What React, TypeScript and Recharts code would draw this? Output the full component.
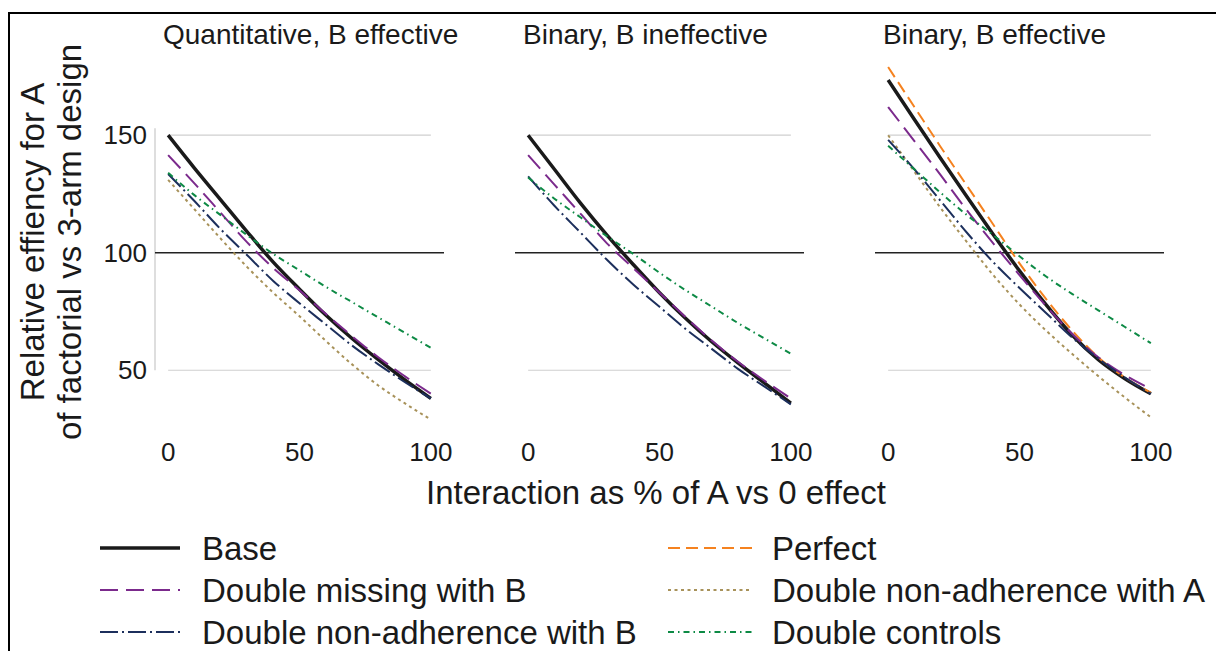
import React from 'react';
import { LineChart, Line, XAxis, YAxis, ReferenceLine } from 'recharts';

// interaction as % of A vs 0 effect
const interaction = [0, 10, 20, 30, 40, 50, 60, 70, 80, 90, 100];

// Quantitative, B effective
const quantBase = [150, 136, 122.5, 109, 96, 84.5, 73.5, 63.5, 54.5, 46, 38];
const quantMissingB = [141.5, 129.5, 117, 104.5, 93.5, 84, 74, 64.5, 55.5, 47.5, 40];
const quantNonAdhB = [133.5, 122, 110, 99, 88, 78.5, 69.5, 60.5, 52.5, 45, 38];
const quantNonAdhA = [131, 118.5, 106, 94, 83, 73, 62.5, 52.5, 43.5, 36, 29];
const quantControls = [134, 124.5, 116, 107.5, 99.5, 92.5, 85.5, 79, 72.5, 66, 59.5];

// Binary, B ineffective
const binInBase = [150, 135.5, 121, 107.5, 95, 83, 72, 62, 53, 44.5, 36];
const binInMissingB = [141.5, 129, 116.5, 104, 93.5, 83, 72.5, 62.5, 53.5, 45.5, 38];
const binInNonAdhB = [132.5, 120, 108.5, 97, 86.5, 77, 67.5, 59, 50.5, 43, 35.5];
const binInControls = [132, 123, 115, 107, 99.5, 91.5, 84, 77, 70, 63.5, 57];

// Binary, B effective
const binEfBase = [173.5, 156.7, 140.1, 123.8, 107.8, 92.3, 78, 65, 54.5, 46.5, 40];
const binEfPerfect = [179, 162, 145, 128.5, 112, 95.5, 80.5, 67, 55.5, 47, 40.5];
const binEfMissingB = [162, 147.5, 133, 118, 104, 90.5, 77.5, 65.5, 55.5, 48, 42];
const binEfNonAdhB = [148, 135.5, 122, 108.5, 96, 85, 74.5, 64, 55, 47, 40];
const binEfNonAdhA = [150, 134.5, 119, 104.5, 90.5, 78, 67, 57, 47.5, 38.5, 30];
const binEfControls = [145.5, 135.5, 125.5, 116, 107.5, 98.5, 90, 82.5, 75.5, 68.5, 61.5];

const panelTitles = ['Quantitative, B effective', 'Binary, B ineffective', 'Binary, B effective'];
const xTicks = [0, 50, 100];
const yTicks = [50, 100, 150];

const FONT = '"Liberation Sans", Arial, Helvetica, sans-serif';
const TEXT = '#1a1a1a';

const SERIES = [
  { key: 'base', name: 'Base', color: '#1a1a1a', width: 3.5, dash: undefined as string | undefined },
  { key: 'perfect', name: 'Perfect', color: '#f5821f', width: 2, dash: '12 6' },
  { key: 'missingB', name: 'Double missing with B', color: '#7b2a8c', width: 2, dash: '18 8' },
  { key: 'nonAdhA', name: 'Double non-adherence with A', color: '#a8925a', width: 2, dash: '3 3.5' },
  { key: 'nonAdhB', name: 'Double non-adherence with B', color: '#1c2f5c', width: 2, dash: '18 4 2 4' },
  { key: 'controls', name: 'Double controls', color: '#0d8a45', width: 2, dash: '6 4 1.5 4' },
];

const legendColumns = [
  ['base', 'missingB', 'nonAdhB'],
  ['perfect', 'nonAdhA', 'controls'],
];

const panels: { title: string; values: Record<string, number[]> }[] = [
  {
    title: panelTitles[0],
    values: {
      base: quantBase,
      missingB: quantMissingB,
      nonAdhA: quantNonAdhA,
      nonAdhB: quantNonAdhB,
      controls: quantControls,
    },
  },
  {
    title: panelTitles[1],
    values: {
      base: binInBase,
      missingB: binInMissingB,
      nonAdhB: binInNonAdhB,
      controls: binInControls,
    },
  },
  {
    title: panelTitles[2],
    values: {
      base: binEfBase,
      perfect: binEfPerfect,
      missingB: binEfMissingB,
      nonAdhA: binEfNonAdhA,
      nonAdhB: binEfNonAdhB,
      controls: binEfControls,
    },
  },
];

const PLOT_W = 289;
const PLOT_H = 369;
const TOP = 20;
const MARGIN_TOP = 40;
const MARGIN_RIGHT = 24;
const XAXIS_H = 40;
const panelLeft = [155, 515, 875];
const YAXIS_W = 60;

const Panel = ({ index }: { index: number }) => {
  const panel = panels[index];
  const data = interaction.map((x, i) => {
    const row: Record<string, number> = { x };
    Object.keys(panel.values).forEach((k) => {
      row[k] = panel.values[k][i];
    });
    return row;
  });
  const showY = index === 0;
  const width = PLOT_W + MARGIN_RIGHT + (showY ? YAXIS_W : 0);
  const left = panelLeft[index] - (showY ? YAXIS_W : 0);

  return (
    <div style={{ position: 'absolute', left, top: TOP }}>
      <LineChart
        width={width}
        height={MARGIN_TOP + PLOT_H + XAXIS_H}
        data={data}
        margin={{ top: MARGIN_TOP, right: MARGIN_RIGHT, bottom: 0, left: 0 }}
      >
        <XAxis
          dataKey="x"
          type="number"
          domain={[-5, 105]}
          ticks={xTicks}
          axisLine={false}
          tickLine={false}
          tickMargin={8}
          height={XAXIS_H}
          interval={0}
          tick={{ fontSize: 26, fill: TEXT, fontFamily: FONT }}
        />
        <YAxis
          type="number"
          domain={[25, 182]}
          ticks={yTicks}
          hide={!showY}
          width={YAXIS_W}
          axisLine={false}
          tickLine={false}
          tickMargin={2}
          tick={{ fontSize: 26, fill: TEXT, fontFamily: FONT }}
        />
        {showY && (
          <ReferenceLine
            segment={[{ x: -5, y: 50 }, { x: -5, y: 153 }]}
            stroke="#c8c8c8"
            strokeWidth={1.2}
          />
        )}
        <ReferenceLine segment={[{ x: 0, y: 150 }, { x: 100, y: 150 }]} stroke="#cfcfcf" strokeWidth={1.2} />
        <ReferenceLine segment={[{ x: 0, y: 50 }, { x: 100, y: 50 }]} stroke="#cfcfcf" strokeWidth={1.2} />
        <ReferenceLine y={100} stroke="#222" strokeWidth={1.6} />
        {SERIES.filter((s) => panel.values[s.key]).map((s) => (
          <Line
            key={s.key}
            type="monotone"
            dataKey={s.key}
            stroke={s.color}
            strokeWidth={s.width}
            strokeDasharray={s.dash}
            dot={false}
            activeDot={false}
            isAnimationActive={false}
          />
        ))}
      </LineChart>
    </div>
  );
};

const legendX = [
  { lineFrom: 100, lineTo: 180, text: 202 },
  { lineFrom: 668, lineTo: 752, text: 772 },
];
const legendRowY = [548, 590, 632];

export default function App() {
  return (
    <div
      style={{
        position: 'absolute',
        left: 0,
        top: 0,
        width: 1216,
        height: 651,
        overflow: 'hidden',
        background: '#fff',
        fontFamily: FONT,
      }}
    >
      <div
        style={{
          position: 'absolute',
          left: 8,
          top: 12,
          width: 1300,
          height: 800,
          border: '2px solid #000',
        }}
      />
      {panels.map((_, i) => (
        <Panel key={i} index={i} />
      ))}
      <svg
        width={1216}
        height={651}
        style={{ position: 'absolute', left: 0, top: 0, pointerEvents: 'none' }}
        fontFamily={FONT}
      >
        {panels.map((p, i) => (
          <text key={p.title} x={panelLeft[i] + 8} y={44} fontSize={28} fill={TEXT}>
            {p.title}
          </text>
        ))}
        <text x={656} y={504} fontSize={33} fill={TEXT} textAnchor="middle">
          Interaction as % of A vs 0 effect
        </text>
        <text x={44} y={242} fontSize={33} fill={TEXT} textAnchor="middle" transform="rotate(-90 44 242)">
          Relative effiency for A
        </text>
        <text x={81} y={242} fontSize={33} fill={TEXT} textAnchor="middle" transform="rotate(-90 81 242)">
          of factorial vs 3-arm design
        </text>
        {legendColumns.map((col, c) =>
          col.map((key, r) => {
            const s = SERIES.find((d) => d.key === key)!;
            const y = legendRowY[r];
            return (
              <g key={key}>
                <line
                  x1={legendX[c].lineFrom}
                  x2={legendX[c].lineTo}
                  y1={y}
                  y2={y}
                  stroke={s.color}
                  strokeWidth={s.width}
                  strokeDasharray={s.dash}
                />
                <text x={legendX[c].text} y={y + 12} fontSize={33} fill={TEXT}>
                  {s.name}
                </text>
              </g>
            );
          })
        )}
      </svg>
    </div>
  );
}
